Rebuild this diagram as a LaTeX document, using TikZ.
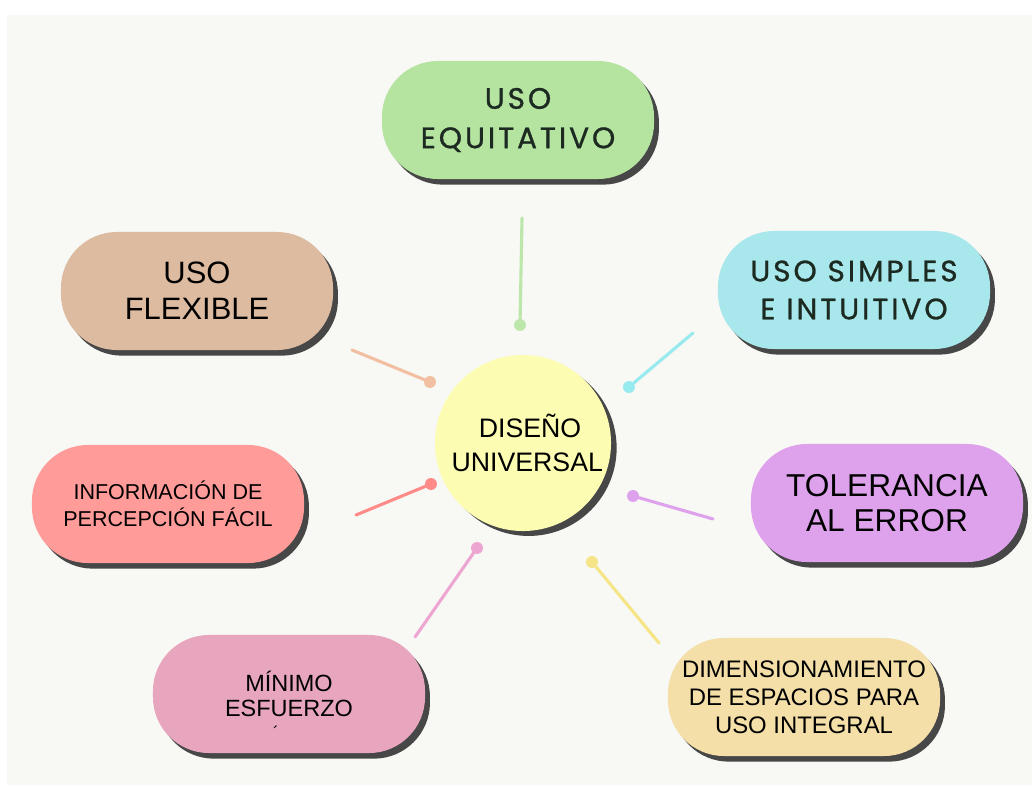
\documentclass[tikz,border=0pt]{standalone}
\usepackage{fontspec}
\setmainfont{Liberation Sans}
\newfontfamily\anchafont[LetterSpace=10, FakeBold=0.9]{Poppins}
\usetikzlibrary{shadows,positioning}

\definecolor{fondo}{HTML}{F8F8F4}
\definecolor{verde}{HTML}{B5E3A0}
\definecolor{canela}{HTML}{DDBBA0}
\definecolor{celeste}{HTML}{A8E8EC}
\definecolor{salmon}{HTML}{FF9B98}
\definecolor{lila}{HTML}{DEA2EC}
\definecolor{rosa}{HTML}{E7A6BE}
\definecolor{arena}{HTML}{F4DFA8}
\definecolor{crema}{HTML}{FCFDB3}
\definecolor{tinta}{HTML}{1C2A22}
\definecolor{durazno}{HTML}{F2BFA2}
\definecolor{fucsia}{HTML}{EDA6D2}

\begin{document}
\begin{tikzpicture}[x=0.025cm, y=-0.025cm,
		pill/.style={rectangle, rounded corners=1.4cm, minimum width=6.8cm, minimum height=2.95cm,
			align=center, inner sep=2pt,
			drop shadow={shadow xshift=3.5pt, shadow yshift=-4pt, fill=black!72, opacity=1}},
		spoke/.style={line width=2.2pt, line cap=round},
		knob/.style={circle, inner sep=0pt, minimum size=8.5pt},
		]
		
		% Fondo
		\fill[white] (0,0) rectangle (1032,785);
		\useasboundingbox (0,0) rectangle (1032,785);
		\fill[fondo] (7,15) rectangle (1032,785);
		
		% Los conectores
		\coordinate (a1) at (522,218);  \node[knob, fill=verde!90!white] (k1) at (520,325) {};
		\coordinate (a2) at (352,350);  \node[knob, fill=durazno] (k2) at (430,382) {};
		\coordinate (a3) at (693,333);  \node[knob, fill=celeste!90!cyan] (k3) at (629,387) {};
		\coordinate (a4) at (356,515);  \node[knob, fill=salmon!90!red] (k4) at (431,484) {};
		\coordinate (a5) at (713,519);  \node[knob, fill=lila] (k5) at (633,496) {};
		\coordinate (a6) at (415,637);  \node[knob, fill=fucsia] (k6) at (477,548) {};
		\coordinate (a7) at (659,643);  \node[knob, fill=arena!80!yellow] (k7) at (592,562) {};
		
		\draw[spoke, verde!90!white] (a1) -- (k1);
		\draw[spoke, durazno] (a2) -- (k2);
		\draw[spoke, celeste!90!cyan] (a3) -- (k3);
		\draw[spoke, salmon!90!red] (a4) -- (k4);
		\draw[spoke, lila] (a5) -- (k5);
		\draw[spoke, fucsia] (a6) -- (k6);
		\draw[spoke, arena!80!yellow] (a7) -- (k7);
		
		% El centro
		\node[circle, fill=crema, minimum size=4.4cm, inner sep=0pt, align=center,
			drop shadow={shadow xshift=4pt, shadow yshift=-3.5pt, fill=black!72, opacity=1},
			font=\fontsize{19}{24}\selectfont] (du) at (523,443) {\hspace*{10pt}DISEÑO\\\hspace*{6pt}UNIVERSAL};
		
		% Los principios
		\node[pill, fill=verde, text=tinta, font=\anchafont\fontsize{21}{28}\selectfont] (equi) at (518,120) {USO\\EQUITATIVO};
		\node[pill, fill=canela, font=\fontsize{22}{25.5}\selectfont] (flex) at (197,291) {USO\\FLEXIBLE};
		\node[pill, fill=celeste, text=tinta, font=\anchafont\fontsize{21}{27}\selectfont] (simp) at (854,290) {USO SIMPLES\\E INTUITIVO};
		\node[pill, fill=salmon, font=\fontsize{15.3}{19}\selectfont] (info) at (168,504) {INFORMACIÓN DE\\PERCEPCIÓN FÁCIL};
		\node[pill, fill=lila, font=\fontsize{22.5}{25}\selectfont] (tol) at (887,503) {TOLERANCIA\\AL ERROR};
		\node[pill, fill=rosa, font=\fontsize{16.7}{18}\selectfont] (mini) at (289,694) {MÍNIMO\\ESFUERZO};
		\node[font=\fontsize{12}{12}\selectfont, inner sep=0pt] (acento) at (276,732) {´};
		\node[pill, fill=arena, font=\fontsize{17}{20}\selectfont] (dim) at (804,697) {DIMENSIONAMIENTO\\DE ESPACIOS PARA\\USO INTEGRAL};
	\end{tikzpicture}
\end{document}
